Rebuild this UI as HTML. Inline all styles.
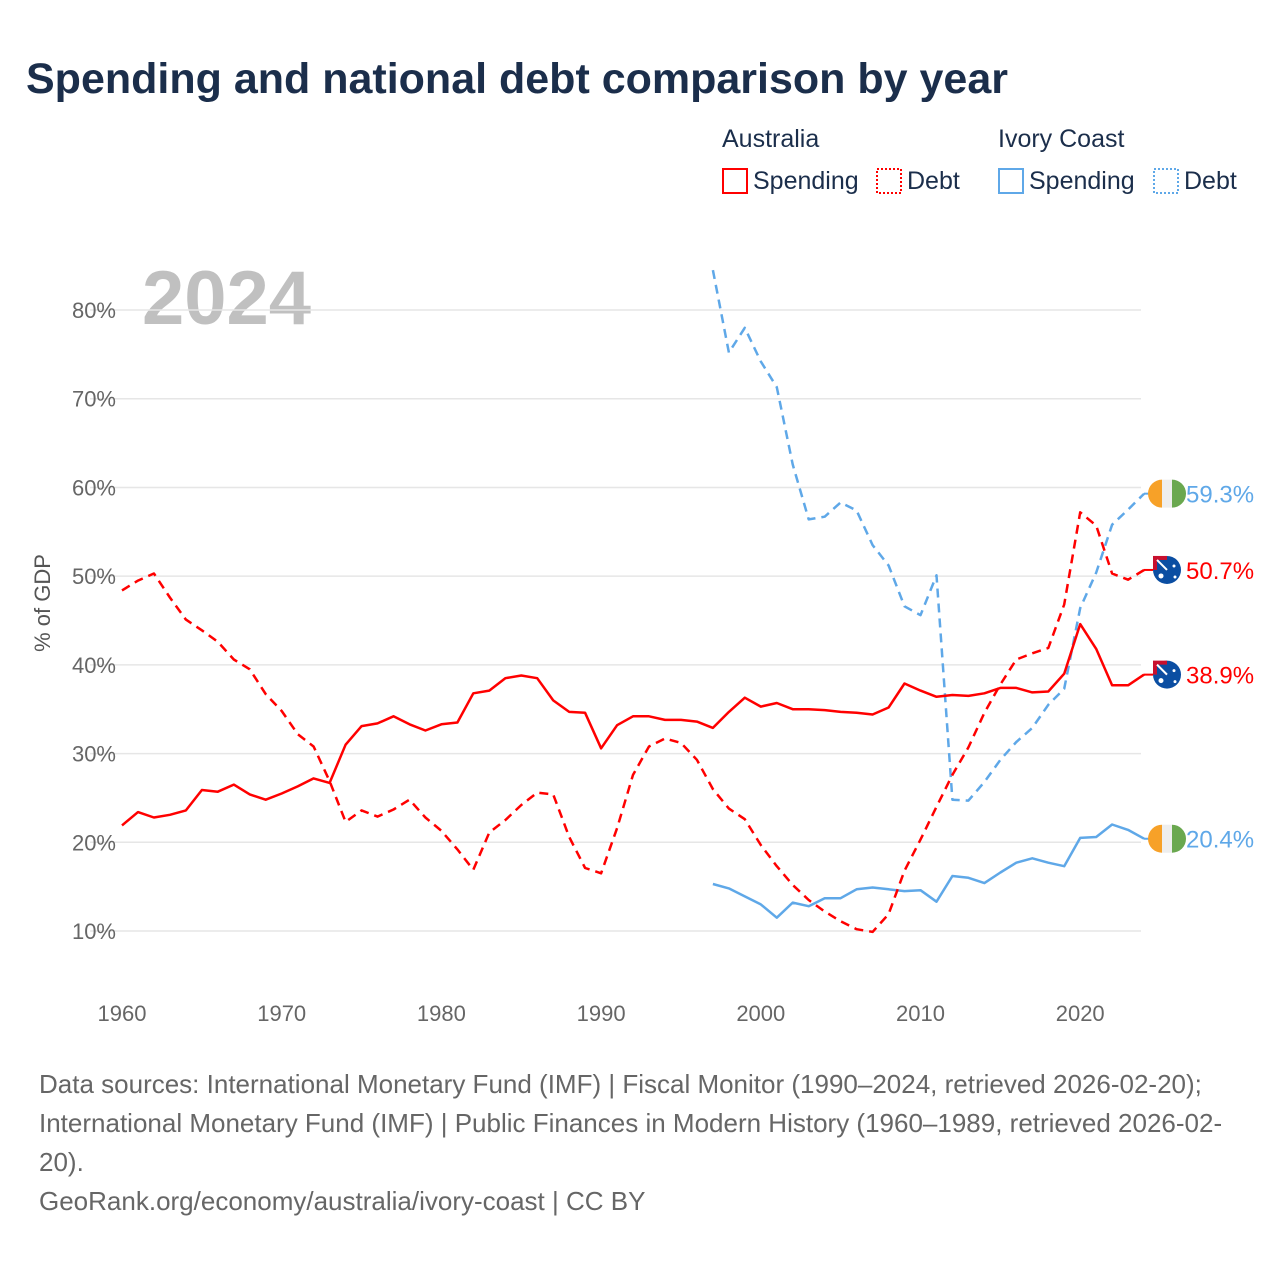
<!DOCTYPE html>
<html><head><meta charset="utf-8"><style>
body{margin:0;background:#fff;font-family:"Liberation Sans",sans-serif;}
#wrap{position:relative;width:1280px;height:1280px;overflow:hidden;}
</style></head><body>
<div id="wrap">
<svg id="chart" width="1280" height="1280" xmlns="http://www.w3.org/2000/svg">
<text x="26" y="93" font-size="43" font-weight="bold" fill="#1b2e4b">Spending and national debt comparison by year</text>
<g font-size="25" fill="#1b2e4b">
<text x="722" y="147">Australia</text>
<text x="998" y="147">Ivory Coast</text>
<g><rect x="723" y="169" width="24" height="24" fill="none" stroke="#f00" stroke-width="2"/><text x="753" y="189">Spending</text></g>
<g><rect x="877" y="169" width="24" height="24" fill="none" stroke="#f00" stroke-width="2" stroke-dasharray="2,2"/><text x="907" y="189">Debt</text></g>
<g><rect x="999" y="169" width="24" height="24" fill="none" stroke="#5fa8e8" stroke-width="2"/><text x="1029" y="189">Spending</text></g>
<g><rect x="1154" y="169" width="24" height="24" fill="none" stroke="#5fa8e8" stroke-width="2" stroke-dasharray="2,2"/><text x="1184" y="189">Debt</text></g>
</g>
<text x="142" y="324" font-size="76" font-weight="bold" fill="#c0c0c0">2024</text>
<text transform="translate(50,603) rotate(-90)" text-anchor="middle" font-size="22" fill="#555">% of GDP</text>
<g id="grid"></g><g id="series"></g><g id="ends"></g>
<g font-size="26" fill="#666">
<text x="39" y="1093">Data sources: International Monetary Fund (IMF) | Fiscal Monitor (1990–2024, retrieved 2026-02-20);</text>
<text x="39" y="1132">International Monetary Fund (IMF) | Public Finances in Modern History (1960–1989, retrieved 2026-02-</text>
<text x="39" y="1171">20).</text>
<text x="39" y="1210">GeoRank.org/economy/australia/ivory-coast | CC BY</text>
</g>
</svg></div>
<script>
const yTicks=[10,20,30,40,50,60,70,80];
const xTicks=[1960,1970,1980,1990,2000,2010,2020];
const auYears0=1960;
const auSpending=[21.9,23.4,22.8,23.1,23.6,25.9,25.7,26.5,25.4,24.8,25.5,26.3,27.2,26.7,31.0,33.1,33.4,34.2,33.3,32.6,33.3,33.5,36.8,37.1,38.5,38.8,38.5,36.0,34.7,34.6,30.6,33.2,34.2,34.2,33.8,33.8,33.6,32.9,34.7,36.3,35.3,35.7,35.0,35.0,34.9,34.7,34.6,34.4,35.2,37.9,37.1,36.4,36.6,36.5,36.8,37.4,37.4,36.9,37.0,39.0,44.6,41.8,37.7,37.7,38.9];
const auDebt=[48.4,49.5,50.3,47.6,45.1,43.9,42.6,40.6,39.5,36.7,34.8,32.2,30.8,26.9,22.3,23.6,22.9,23.7,24.8,22.8,21.3,19.2,16.9,21.1,22.5,24.2,25.6,25.4,20.6,17.1,16.5,21.6,27.6,30.8,31.7,31.2,29.3,26.0,23.8,22.6,19.7,17.3,15.2,13.5,12.2,11.1,10.2,9.9,11.9,16.8,20.3,24.0,27.6,30.7,34.6,37.8,40.6,41.3,41.9,46.8,57.2,55.7,50.3,49.6,50.7];
const ciYears0=1997;
const ciSpending=[15.3,14.8,13.9,13.0,11.5,13.2,12.8,13.7,13.7,14.7,14.9,14.7,14.5,14.6,13.3,16.2,16.0,15.4,16.6,17.7,18.2,17.7,17.3,20.5,20.6,22.0,21.4,20.4];
const ciDebt=[84.5,75.2,78.0,74.2,71.3,62.6,56.4,56.7,58.3,57.4,53.5,51.2,46.6,45.6,50.1,24.8,24.7,26.8,29.3,31.3,32.9,35.5,37.3,46.4,50.4,55.8,57.5,59.3];

const NS='http://www.w3.org/2000/svg';
const X=y=>122+(y-1960)*15.97;
const Y=v=>931-(v-10)*8.871;
function mk(t,a,p){const e=document.createElementNS(NS,t);for(const k in a)e.setAttribute(k,a[k]);p.appendChild(e);return e;}
const grid=document.getElementById('grid');
yTicks.forEach(v=>{
 const l=mk('line',{x1:90,x2:1141,y1:Y(v),y2:Y(v),stroke:'#e6e6e6','stroke-width':1.5},grid);
 
 
 const t=mk('text',{x:116,y:Y(v)+8,'text-anchor':'end','font-size':22,fill:'#666'},grid);
 t.textContent=v+'%';
 
 
});
xTicks.forEach(v=>{
 const t=mk('text',{x:X(v),y:1021,'text-anchor':'middle','font-size':22,fill:'#666'},grid);
 t.textContent=v;
 
 
});
const ser=document.getElementById('series');
function line(arr,y0,col,dash,name){
 const d=arr.map((v,i)=>(i?'L':'M')+X(y0+i).toFixed(1)+','+Y(v).toFixed(1)).join('');
 const p=mk('path',{d:d,fill:'none',stroke:col,'stroke-width':2.5,'stroke-linejoin':'round'},ser);
 if(dash)p.setAttribute('stroke-dasharray','9,6');
 
 
}
line(ciDebt,ciYears0,'#5fa8e8',true,'ivory-coast-debt-line');
line(ciSpending,ciYears0,'#5fa8e8',false,'ivory-coast-spending-line');
line(auDebt,auYears0,'#f00',true,'australia-debt-line');
line(auSpending,auYears0,'#f00',false,'australia-spending-line');
const ends=document.getElementById('ends');
function endLabel(v,col,flag,name){
 const y=Y(v),cx=1167;
 mk('line',{x1:1144,x2:cx-14,y1:y,y2:y,stroke:col,'stroke-width':2},ends);
 const g=mk('g',{},ends);
 
 
 if(flag==='ci'){
  mk('path',{d:`M${cx-5},${y-14}A14,14 0 0 0 ${cx-5},${y+14}Z`,fill:'#f7a128'},g);
  mk('rect',{x:cx-5,y:y-14,width:10,height:28,fill:'#eee'},g);
  mk('path',{d:`M${cx+5},${y-14}A14,14 0 0 1 ${cx+5},${y+14}Z`,fill:'#6aa84f'},g);
 } else {
  mk('circle',{cx:cx,cy:y,r:14,fill:'#0b4ea2'},g);
  mk('rect',{x:cx-14,y:y-14,width:14,height:14,fill:'#c8102e'},g);
  mk('rect',{x:cx-10,y:y-10,width:10,height:10,fill:'#0b4ea2'},g);
  mk('line',{x1:cx-10,y1:y-10,x2:cx,y2:y,stroke:'#fff','stroke-width':2},g);
  mk('circle',{cx:cx-6,cy:y+6,r:2.5,fill:'#fff'},g);
  mk('circle',{cx:cx+7,cy:y-4,r:1.5,fill:'#fff'},g);
  mk('circle',{cx:cx+8,cy:y+7,r:1.5,fill:'#fff'},g);
 }
 const t=mk('text',{x:1186,y:y+9,'font-size':24,fill:col},ends);
 t.textContent=v.toFixed(1)+'%';
 
 
}
endLabel(ciDebt[ciDebt.length-1],'#5fa8e8','ci','ivory-coast-debt');
endLabel(auDebt[auDebt.length-1],'#f00','au','australia-debt');
endLabel(auSpending[auSpending.length-1],'#f00','au','australia-spending');
endLabel(ciSpending[ciSpending.length-1],'#5fa8e8','ci','ivory-coast-spending');
</script>
</body></html>
